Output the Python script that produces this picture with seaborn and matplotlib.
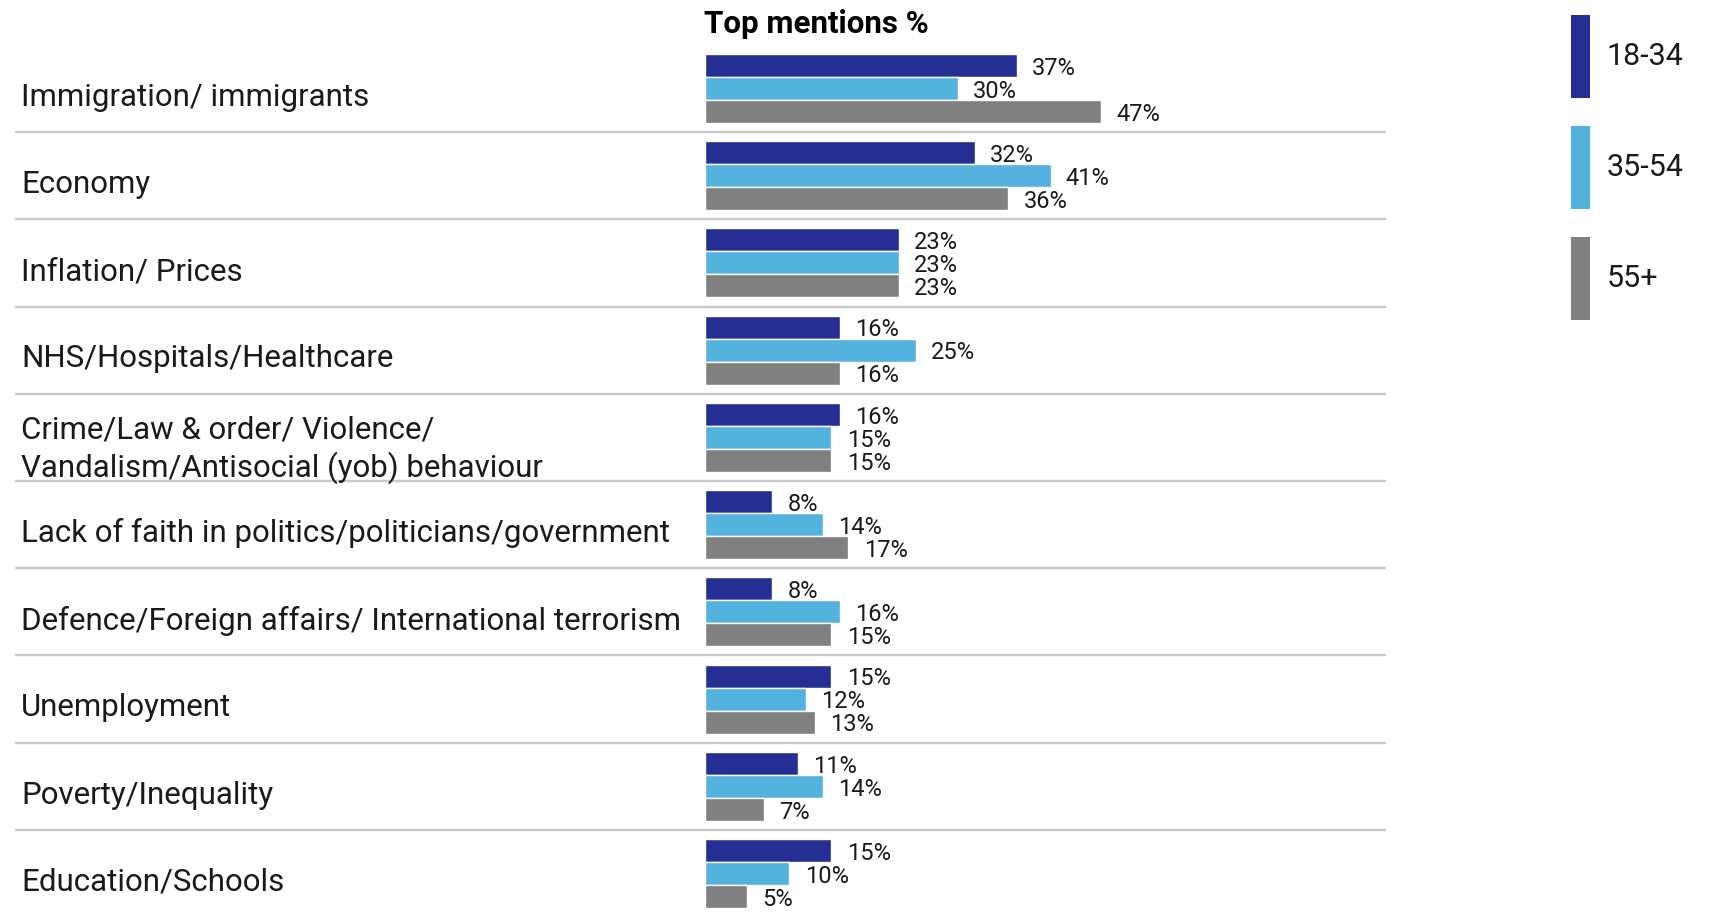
"""Top mentions % by age group: horizontal grouped bars."""
import matplotlib
matplotlib.use("Agg")
import matplotlib.pyplot as plt
import matplotlib.transforms as mtransforms
from matplotlib.patches import Patch
import pandas as pd
import seaborn as sns

ISSUES = [
    "Immigration/ immigrants",
    "Economy",
    "Inflation/ Prices",
    "NHS/Hospitals/Healthcare",
    "Crime/Law & order/ Violence/\nVandalism/Antisocial (yob) behaviour",
    "Lack of faith in politics/politicians/government",
    "Defence/Foreign affairs/ International terrorism",
    "Unemployment",
    "Poverty/Inequality",
    "Education/Schools",
]
AGE_GROUPS = ["18-34", "35-54", "55+"]
PCT_18_34 = [37, 32, 23, 16, 16, 8, 8, 15, 11, 15]
PCT_35_54 = [30, 41, 23, 25, 15, 14, 16, 12, 14, 10]
PCT_55_PLUS = [47, 36, 23, 16, 15, 17, 15, 13, 7, 5]
COLORS = ["#242E93", "#53B2DE", "#808080"]

W, H, DPI = 1709, 918, 100

sns.set_style("white")
plt.rcParams["font.family"] = ["Roboto", "DejaVu Sans"]
TEXT = "#1a1a1a"

rows = []
for grp, vals in zip(AGE_GROUPS, [PCT_18_34, PCT_35_54, PCT_55_PLUS]):
    for issue, v in zip(ISSUES, vals):
        rows.append({"issue": issue, "age": grp, "pct": v})
df = pd.DataFrame(rows)

fig = plt.figure(figsize=(W / DPI, H / DPI), dpi=DPI)
# axes placed in pixel terms: bars start at x=705, run from y=54 to y=908
left, right = 705, 1386
top, bottom = 54, 908
ax = fig.add_axes([left / W, 1 - bottom / H, (right - left) / W, (bottom - top) / H])

bw = 0.79
sns.barplot(data=df, y="issue", x="pct", hue="age", order=ISSUES, hue_order=AGE_GROUPS,
            orient="h", palette=COLORS, saturation=1, width=bw, legend=False, ax=ax,
            errorbar=None)
ax.set_xlim(0, (right - left) / 8.43)
ax.set_ylim(len(ISSUES) - 1 + bw / 2, -bw / 2)

# value labels, nudged a touch below the bar centre like the original
for cont in ax.containers:
    for bar in cont:
        w = bar.get_width()
        yc = bar.get_y() + bar.get_height() / 2
        ax.annotate(f"{w:.0f}%", xy=(w, yc), xytext=(11, -2), textcoords="offset points",
                    ha="left", va="center", fontsize=17, color=TEXT)

ax.set_yticks([])
ax.set_xticks([])
ax.set_xlabel("")
ax.set_ylabel("")
for s in ax.spines.values():
    s.set_visible(False)

blend = mtransforms.blended_transform_factory(fig.transFigure, ax.transData)
for i, issue in enumerate(ISSUES):
    dy = 0.14 if "\n" in issue else 0.1
    ax.text(21 / W, i + dy, issue, transform=blend, ha="left", va="center",
            fontsize=22.5, color=TEXT, linespacing=1.27)
for i in range(len(ISSUES) - 1):
    ax.plot([15 / W, 1386 / W], [i + 0.5, i + 0.5], transform=blend, color="#C9C9C9",
            lw=1.7, clip_on=False, solid_capstyle="butt")

fig.text(704 / W, 1 - 24 / H, "Top mentions %", ha="left", va="center",
         fontsize=22.5, fontweight="bold", color="#000000")

# tall thin legend keys (~83 px high, 111 px apart)
fs = 22
fs_px = fs * DPI / 72
hh = 3.81
patch_px = fs_px * hh - 0.35 * fs_px * (hh - 0.7)
handles = [Patch(facecolor=c, edgecolor="none", label=g) for c, g in zip(COLORS, AGE_GROUPS)]
fig.legend(handles=handles, loc="upper left", bbox_to_anchor=(1571 / W, 1 - 15 / H),
           frameon=False, fontsize=fs, handlelength=0.62, handleheight=hh,
           labelspacing=(111 - patch_px) / fs_px, handletextpad=0.55, borderpad=0,
           borderaxespad=0, labelcolor=TEXT)

fig.savefig("out.png", dpi=DPI)
